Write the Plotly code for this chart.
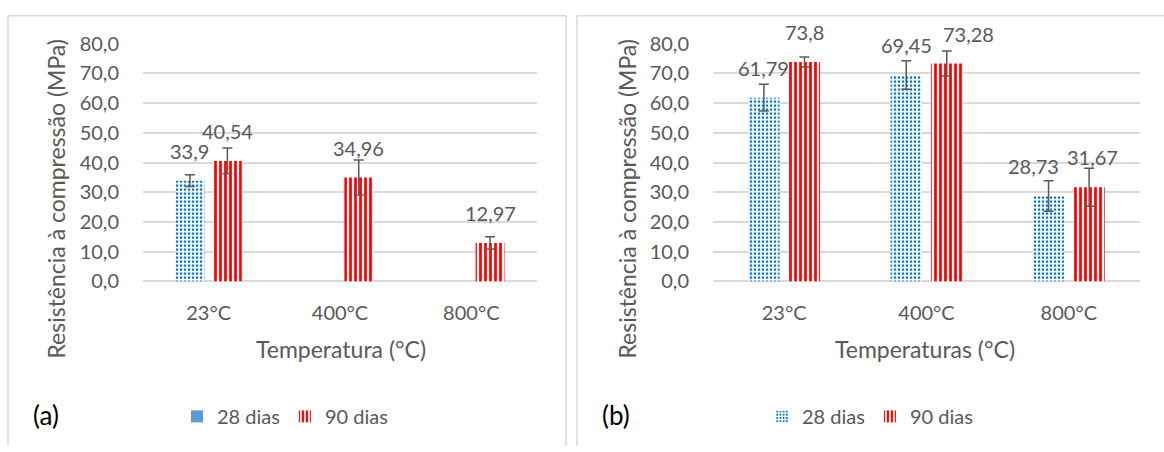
import plotly.graph_objects as go

# ---------------- data ----------------
categories = ["23°C", "400°C", "800°C"]

a_28_values = [33.9, None, None]
a_28_errors = [2.0, None, None]
a_90_values = [40.54, 34.96, 12.97]
a_90_errors = [4.3, 5.9, 2.1]

b_28_values = [61.79, 69.45, 28.73]
b_28_errors = [4.5, 4.8, 5.1]
b_90_values = [73.8, 73.28, 31.67]
b_90_errors = [1.7, 4.2, 6.4]

y_ticks = [0, 10, 20, 30, 40, 50, 60, 70, 80]
series_names = ["28 dias", "90 dias"]

# ---------------- styling ----------------
W, H = 1164, 452
FONT = "Lato"
GRAY = "#595959"
GRID = "#d9d9d9"
BLUE_DOT = "#0070C0"
RED = "#FF0000"

BAR_W = 0.22
CENTER = 0.1425  # half distance between the two bars of a group (category units)

# manual nudges (pixels) of a few data labels, as in the original chart
label_nudge_b28 = [0, 0, -15]
label_nudge_b90 = [0, 22, 3]


def px_x(p):
    return p / W


def px_y(p):
    return 1 - p / H


dots = dict(shape=".", fgcolor=BLUE_DOT, bgcolor="white", size=4, solidity=0.33, fillmode="replace")
stripes = dict(shape="|", fgcolor=RED, bgcolor="white", size=5, solidity=0.55, fillmode="replace")

err_style = dict(type="data", color=GRAY, thickness=1.5, width=5, visible=True)

fig = go.Figure()


def add_pair(vals28, err28, vals90, err90, xa, ya, leg, solid_legend28):
    fig.add_trace(go.Bar(
        x=categories, y=vals28, name=series_names[0],
        marker=dict(color="white", pattern=dots, line=dict(width=0)),
        error_y=dict(array=err28, **err_style),
        width=BAR_W, offset=-CENTER - BAR_W / 2,
        xaxis=xa, yaxis=ya, legend=leg, showlegend=not solid_legend28,
        hoverinfo="skip",
    ))
    if solid_legend28:
        fig.add_trace(go.Bar(
            x=categories, y=[None] * len(categories), name=series_names[0],
            marker=dict(color="#5B9BD5", line=dict(width=0)),
            width=BAR_W, offset=-CENTER - BAR_W / 2,
            xaxis=xa, yaxis=ya, legend=leg, showlegend=True,
            hoverinfo="skip",
        ))
    fig.add_trace(go.Bar(
        x=categories, y=vals90, name=series_names[1],
        marker=dict(color="white", pattern=stripes, line=dict(width=0)),
        error_y=dict(array=err90, **err_style),
        width=BAR_W, offset=CENTER - BAR_W / 2,
        xaxis=xa, yaxis=ya, legend=leg, showlegend=True,
        hoverinfo="skip",
    ))


add_pair(a_28_values, a_28_errors, a_90_values, a_90_errors, "x", "y", "legend", True)
add_pair(b_28_values, b_28_errors, b_90_values, b_90_errors, "x2", "y2", "legend2", False)

annotations = []


def fmt(v):
    return str(v).replace(".", ",")


def add_labels(vals, shift, xref, yref, nudges=None):
    for i, v in enumerate(vals):
        if v is None:
            continue
        annotations.append(dict(
            x=i + shift, y=v, xref=xref, yref=yref, text=fmt(v),
            showarrow=False, yanchor="middle", yshift=30,
            xshift=(nudges[i] if nudges else 0),
            font=dict(family=FONT, size=20, color=GRAY),
        ))


add_labels(a_28_values, -CENTER, "x", "y")
add_labels(a_90_values, CENTER, "x", "y")
add_labels(b_28_values, -CENTER, "x2", "y2", label_nudge_b28)
add_labels(b_90_values, CENTER, "x2", "y2", label_nudge_b90)

# axis titles
title_font = dict(family=FONT, size=23, color=GRAY)
for (x, y, t, ang) in [
    (56, 196, "Resistência à compressão (MPa)", -90),
    (627, 196, "Resistência à compressão (MPa)", -90),
    (341, 355, "Temperatura (°C)", 0),
    (925, 355, "Temperaturas (°C)", 0),
]:
    annotations.append(dict(
        x=px_x(x), y=px_y(y), xref="paper", yref="paper", text=t,
        showarrow=False, textangle=ang, xanchor="center", yanchor="middle",
        font=title_font,
    ))

# panel letters
for (x, t) in [(46, "(a)"), (616, "(b)")]:
    annotations.append(dict(
        x=px_x(x), y=px_y(425), xref="paper", yref="paper", text=t,
        showarrow=False, xanchor="center", yanchor="middle",
        font=dict(family=FONT, size=26, color="black"),
    ))

# panel frames
shapes = []
frame = dict(color=GRID, width=1.5)
for (x0, y0, x1, y1) in [
    (8, 3, 8, H + 5), (8, 3, 566, 3), (566, 3, 566, H + 5),
    (577, 3, 577, H + 5), (577, 3, W + 5, 3),
]:
    shapes.append(dict(type="line", xref="paper", yref="paper",
                       x0=px_x(x0), y0=px_y(y0), x1=px_x(x1), y1=px_y(y1), line=frame))

tick_font = dict(family=FONT, size=20, color=GRAY)
xcommon = dict(
    type="category", categoryorder="array", categoryarray=categories,
    range=[-0.5, len(categories) - 0.5],
    showgrid=False, zeroline=False, showline=False,
    ticks="outside", ticklen=14, tickcolor="rgba(0,0,0,0)",
    tickfont=tick_font, fixedrange=True,
)
ycommon = dict(
    range=[0, 80], tickvals=y_ticks, tickformat=".1f",
    showgrid=True, gridcolor=GRID, gridwidth=1.5,
    zeroline=True, zerolinecolor=GRID, zerolinewidth=1.5,
    showline=False, ticks="outside", ticklen=19, tickcolor="rgba(0,0,0,0)",
    tickfont=tick_font, fixedrange=True,
)

y_top, y_bot = px_y(32.3), px_y(283.5)

legend_font = dict(family=FONT, size=20, color=GRAY)
fig.update_layout(
    width=W, height=H, margin=dict(l=0, r=0, t=0, b=0),
    paper_bgcolor="white", plot_bgcolor="white",
    separators=",.",
    barmode="overlay",
    showlegend=True,
    xaxis=dict(domain=[px_x(143), px_x(537)], anchor="y", **xcommon),
    yaxis=dict(domain=[y_bot, y_top], anchor="x", **ycommon),
    xaxis2=dict(domain=[px_x(713), px_x(1140)], anchor="y2", **xcommon),
    yaxis2=dict(domain=[y_bot, y_top], anchor="x2", **ycommon),
    legend=dict(orientation="h", x=px_x(285), y=px_y(426), xanchor="center", yanchor="middle",
                font=legend_font, bgcolor="rgba(0,0,0,0)", tracegroupgap=0,
                itemclick=False, itemdoubleclick=False),
    legend2=dict(orientation="h", x=px_x(870), y=px_y(426), xanchor="center", yanchor="middle",
                 font=legend_font, bgcolor="rgba(0,0,0,0)", tracegroupgap=0,
                 itemclick=False, itemdoubleclick=False),
    annotations=annotations,
    shapes=shapes,
    font=dict(family=FONT, color=GRAY),
)

fig.write_html("out.html", config={"displayModeBar": False})
